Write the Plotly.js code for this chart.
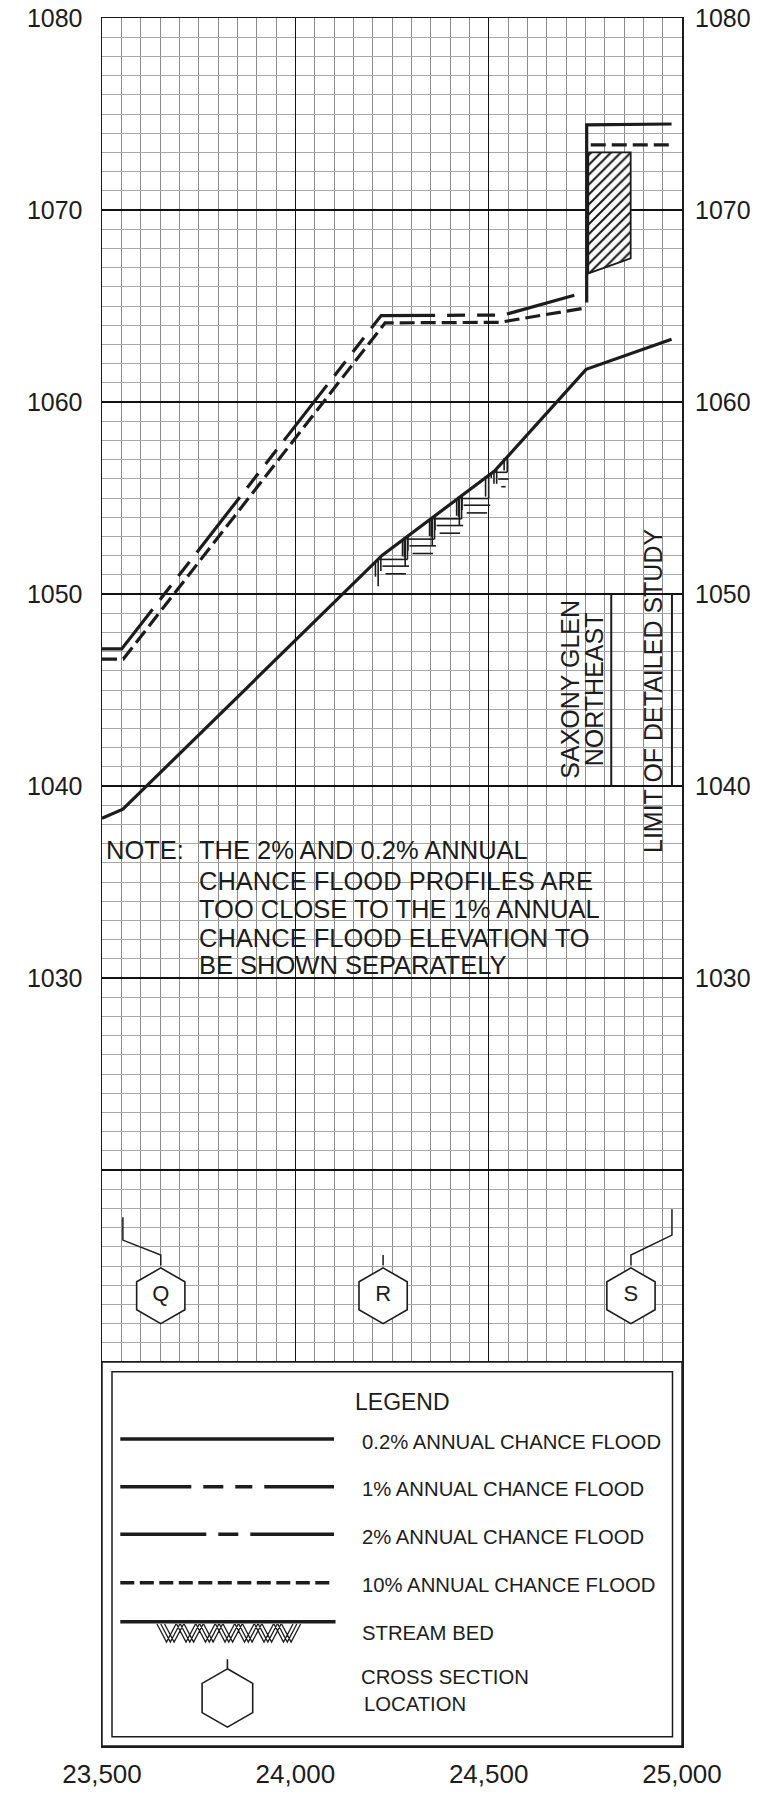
<!DOCTYPE html>
<html>
<head>
<meta charset="utf-8">
<script src="https://cdn.plot.ly/plotly-3.0.1.min.js"></script>
<style>html,body{margin:0;padding:0;background:#fff}#chart{width:768px;height:1793px}</style>
</head>
<body>
<div id="chart"></div>
<script>
// ---------- data ----------
const xTickVals = [23500, 24000, 24500, 25000];
const yTickVals = [990, 1000, 1010, 1020, 1030, 1040, 1050, 1060, 1070, 1080];
const yTickText = ['', '', '', '', '1030', '1040', '1050', '1060', '1070', '1080'];
const yRightVals = [1030, 1040, 1050, 1060, 1070, 1080];

// stream bed profile
const bedX = [23500, 23554, 24225, 24515, 24752, 24973];
const bedY = [1038.32, 1038.79, 1052.02, 1056.4, 1061.7, 1063.27];

// 1% annual chance flood
const flood1X = [23500, 23551, 24222, 24538, 24753];
const flood1Y = [1047.14, 1047.14, 1064.5, 1064.53, 1065.74];

// 10% annual chance flood
const flood10X = [23500, 23555, 24232, 24529, 24753, null, 24764, 24973];
const flood10Y = [1046.61, 1046.61, 1064.12, 1064.15, 1064.91, null, 1073.39, 1073.39];

// 0.2% annual chance flood (over the structure)
const flood02X = [24753.5, 24753.5, 24973];
const flood02Y = [1065.18, 1074.43, 1074.48];

// structure (hatched)
const structX = [24757.6, 24867.3, 24867.3, 24757.6, 24757.6];
const structY = [1073.0, 1073.0, 1067.48, 1066.7, 1073.0];

// cross sections
const xsLabel = ['Q', 'R', 'S'];
const xsStation = [23554, 24227, 24974];
const xsSymbolX = [23652, 24227, 24868];
const xsSymbolY = [1013.45, 1013.45, 1013.45];

// stream bed hatch group positions
const bedHatchX = [24290, 24360, 24430, 24500, 24548];

// ---------- helpers ----------
const FONT = 'Liberation Sans, Arial, Helvetica, sans-serif';
const INK = '#1c1c1c';
const L = 102, PW = 580, T = 18, PXU = 19.2;
function X(px) { return 23500 + (px - L) * 1500 / PW; }
function Y(py) { return 1080 - (py - T) / PXU; }
function bed(x) {
  for (let i = 0; i < bedX.length - 1; i++) {
    if (x >= bedX[i] && x <= bedX[i + 1]) {
      return bedY[i] + (bedY[i + 1] - bedY[i]) * (x - bedX[i]) / (bedX[i + 1] - bedX[i]);
    }
  }
  return bedY[bedY.length - 1];
}

// stream bed hatch marks built from the bed profile
const hx = [], hy = [];
function seg(x0, y0, x1, y1) { hx.push(x0, x1, null); hy.push(y0, y1, null); }
bedHatchX.forEach((xr, k) => {
  const yb = bed(xr);
  const last = (k === bedHatchX.length - 1);
  const d = last ? 0.8 : 1.2;
  const slope = (bed(xr) - bed(xr - 20)) / 20;
  const xl = xr - (d - 0.1) / slope;
  seg(xr, yb, xr, yb - d);
  seg(xr, yb - d, xl, yb - d);
  seg(xr + 4, yb - d - 0.35, xl + 8, yb - d - 0.35);
  seg(xr - 4, yb - d - 0.75, xl + 16, yb - d - 0.75);
  seg(xr - 8, yb + 0.05 - 0.1, xr - 8, yb - d + 0.1);
  seg(xl - 3, bed(xl - 3), xl - 3, yb - d - (last ? 0.6 : 1.4));
  seg(xl - 10, bed(xl - 10), xl - 10, yb - d - (last ? 0.3 : 0.9));
  seg(xl + 4, bed(xl + 4) - 0.05, xl + 4, yb - d - 0.6);
});

// cross-section leaders
const leadTop = [1017.54, 1015.57, 1017.95];
const leadKnee = [1016.35, 1015.57, 1016.61];
const lx = [], ly = [];
xsStation.forEach((s, i) => {
  lx.push(s, s, xsSymbolX[i], xsSymbolX[i], null);
  ly.push(leadTop[i], leadKnee[i], 1015.57, 1015.02, null);
});

// ---------- traces ----------
const traces = [
  {x: hx, y: hy, mode: 'lines', line: {color: INK, width: 1.6}, hoverinfo: 'skip', name: 'bed hatch'},
  {x: bedX, y: bedY, mode: 'lines', line: {color: INK, width: 3.2}, name: 'STREAM BED'},
  {x: structX, y: structY, mode: 'lines', fill: 'toself', fillcolor: 'white',
   fillpattern: {shape: '/', size: 7, solidity: 0.3, fgcolor: INK, bgcolor: 'white'},
   line: {color: INK, width: 1.8}, name: 'structure'},
  {x: flood10X, y: flood10Y, mode: 'lines', line: {color: INK, width: 3.2, dash: '15px,6px'}, name: '10% ANNUAL CHANCE FLOOD'},
  {x: flood1X, y: flood1Y, mode: 'lines', line: {color: INK, width: 3.2, dash: '70px,12px,18px,12px,18px,12px'}, name: '1% ANNUAL CHANCE FLOOD'},
  {x: flood02X, y: flood02Y, mode: 'lines', line: {color: INK, width: 3.2}, name: '0.2% ANNUAL CHANCE FLOOD'},
  {x: lx, y: ly, mode: 'lines', line: {color: INK, width: 1.5}, hoverinfo: 'skip', name: 'leaders'},
  {x: xsSymbolX, y: xsSymbolY, yaxis: 'y2', mode: 'markers+text', text: xsLabel,
   textposition: 'middle center', textfont: {family: FONT, size: 22, color: INK},
   marker: {symbol: 'hexagon', size: 55.7, color: 'white', line: {color: INK, width: 1.6}},
   name: 'CROSS SECTION LOCATION'}
];

// ---------- legend decorations ----------
const shapes = [];
function hline(px0, px1, py, dash, w) {
  shapes.push({type: 'line', xref: 'x', yref: 'y', layer: 'above', x0: X(px0), x1: X(px1), y0: Y(py), y1: Y(py),
    line: {color: INK, width: w || 3.5, dash: dash || 'solid'}});
}
// marker lines for the labels
shapes.push({type: 'line', xref: 'x', yref: 'y', x0: 24817, x1: 24817, y0: 1040, y1: 1050, line: {color: INK, width: 2}});
shapes.push({type: 'line', xref: 'x', yref: 'y', x0: 24974, x1: 24974, y0: 1040, y1: 1050, line: {color: INK, width: 2}});
// legend boxes
shapes.push({type: 'rect', xref: 'x', yref: 'y', layer: 'above', x0: 23500, x1: 25000, y0: 990, y1: 1010,
  fillcolor: 'white', line: {color: INK, width: 1.5}});
shapes.push({type: 'rect', xref: 'x', yref: 'y', layer: 'above', x0: X(112), x1: X(672.5), y0: Y(1736.7), y1: Y(1371.7),
  fillcolor: 'rgba(0,0,0,0)', line: {color: INK, width: 1.5}});
hline(120.3, 334, 1439, 'solid');
hline(120.3, 334, 1486.7, '71px,12px,20px,12px,17px,12px');
hline(120.3, 334, 1534.3, '86px,12px,20px,12px');
hline(120.3, 334, 1582.7, '14px,5.5px');
hline(120.3, 335.5, 1621.7, 'solid');
// legend stream bed hatch
let p = '';
for (let s = 0; s < 3; s++) {
  const off = s * 3.8;
  for (let k = 0; k < 7; k++) {
    const x0 = 157 + k * 19.5 + off;
    p += 'M' + X(x0) + ',' + Y(1624) + 'L' + X(x0 + 9.5) + ',' + Y(1642) + 'L' + X(x0 + 19) + ',' + Y(1624) + ' ';
  }
}
shapes.push({type: 'path', xref: 'x', yref: 'y', layer: 'above', path: p, line: {color: INK, width: 1.3}});
// legend hexagon
const cx = 227.4, cy = 1698, rs = 29.2, hw = 25.3;
const hp = 'M' + X(cx) + ',' + Y(cy - rs) + 'L' + X(cx + hw) + ',' + Y(cy - rs / 2) + 'L' + X(cx + hw) + ',' + Y(cy + rs / 2) +
  'L' + X(cx) + ',' + Y(cy + rs) + 'L' + X(cx - hw) + ',' + Y(cy + rs / 2) + 'L' + X(cx - hw) + ',' + Y(cy - rs / 2) + 'Z' +
  'M' + X(cx) + ',' + Y(cy - rs) + 'L' + X(cx) + ',' + Y(1659.3);
shapes.push({type: 'path', xref: 'x', yref: 'y', layer: 'above', path: hp, line: {color: INK, width: 1.6}});

// ---------- annotations ----------
const annotations = [];
function txt(text, x, y, size, xanchor, angle) {
  annotations.push({text: text, x: x, y: y, xref: 'x', yref: 'y', showarrow: false,
    xanchor: xanchor || 'left', yanchor: 'middle', textangle: angle || 0,
    font: {family: FONT, size: size, color: INK}, borderpad: 0});
}
const noteLines = ['THE 2% AND 0.2% ANNUAL', 'CHANCE FLOOD PROFILES ARE', 'TOO CLOSE TO THE 1% ANNUAL',
  'CHANCE FLOOD ELEVATION TO', 'BE SHOWN SEPARATELY'];
const noteY = [850, 880.5, 909.2, 937.8, 965];
txt('NOTE:', X(105), Y(850), 25.5);
noteLines.forEach((t, i) => txt(t, X(197.5), Y(noteY[i]), 25.5));
txt('SAXONY GLEN', X(569.7), Y(689), 25, 'center', -90);
txt('NORTHEAST', X(594.3), Y(689), 25, 'center', -90);
txt('LIMIT OF DETAILED STUDY', X(653), Y(691), 25, 'center', -90);
// legend text
txt('LEGEND', X(402), Y(1401.7), 23, 'center');
const legTexts = ['0.2% ANNUAL CHANCE FLOOD', '1% ANNUAL CHANCE FLOOD', '2% ANNUAL CHANCE FLOOD',
  '10% ANNUAL CHANCE FLOOD', 'STREAM BED', 'CROSS SECTION', 'LOCATION'];
const legTY = [1441.7, 1489.3, 1536.7, 1585, 1633.3, 1676.7, 1704];
const legTX = [361, 361, 361, 361, 361, 359.5, 362.5];
legTexts.forEach((t, i) => txt(t, X(legTX[i]), Y(legTY[i]), 20.3));

// ---------- layout ----------
const layout = {
  width: 768, height: 1793,
  margin: {l: L, r: 768 - L - PW, t: T, b: 1793 - T - 90 * PXU, pad: 0},
  paper_bgcolor: 'white', plot_bgcolor: 'white',
  showlegend: false,
  font: {family: FONT, color: INK},
  xaxis: {
    range: [23500, 25000], tickmode: 'array', tickvals: xTickVals, tickformat: ',d',
    tickfont: {family: FONT, size: 26, color: INK}, ticks: '', ticklabelstandoff: 4,
    showgrid: true, gridcolor: '#111', gridwidth: 1.3, zeroline: false,
    showline: true, mirror: true, linecolor: INK, linewidth: 1.5,
    minor: {tickmode: 'linear', tick0: 23500, dtick: 50, showgrid: true, gridcolor: '#8c8c8c', gridwidth: 1, ticks: ''}
  },
  yaxis: {
    range: [990, 1080], tickmode: 'array', tickvals: yTickVals, ticktext: yTickText,
    tickfont: {family: FONT, size: 25, color: INK}, ticks: '', ticklabelstandoff: 13,
    showgrid: true, gridcolor: '#111', gridwidth: 1.3, zeroline: false,
    showline: true, mirror: true, linecolor: INK, linewidth: 1.5,
    minor: {tickmode: 'linear', tick0: 990, dtick: 1, showgrid: true, gridcolor: '#a8a8a8', gridwidth: 1, ticks: ''}
  },
  yaxis2: {
    range: [990, 1080], overlaying: 'y', side: 'right', tickmode: 'array', tickvals: yRightVals,
    tickfont: {family: FONT, size: 25, color: INK}, ticks: '', ticklabelstandoff: 12,
    showgrid: false, zeroline: false, showline: false
  },
  shapes: shapes,
  annotations: annotations
};

Plotly.newPlot('chart', traces, layout, {staticPlot: true, displayModeBar: false});
</script>
</body>
</html>
